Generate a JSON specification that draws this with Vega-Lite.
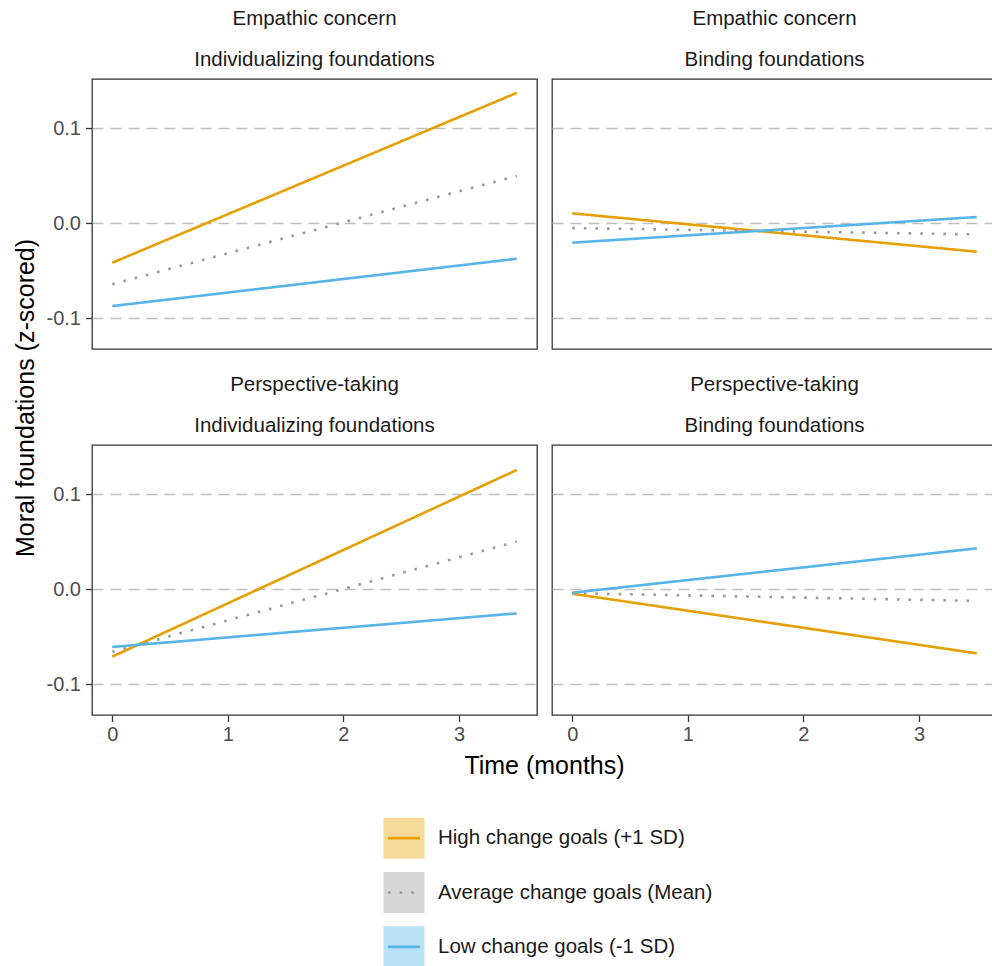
{
  "$schema": "https://vega.github.io/schema/vega-lite/v6.json",
  "background": "white",
  "padding": {"left": 12, "top": 8, "right": 0, "bottom": 0},
  "bounds": "flush",
  "columns": 2,
  "spacing": {"row": 96, "column": 15},
  "config": {
    "font": "Liberation Sans",
    "view": {"stroke": "#333333", "strokeWidth": 1.3},
    "axis": {
      "domain": false,
      "tickColor": "#333333",
      "tickWidth": 1.3,
      "tickSize": 6.5,
      "labelFont": "Liberation Sans",
      "labelFontSize": 20,
      "labelColor": "#4D4D4D",
      "labelPadding": 5,
      "titleFont": "Liberation Sans",
      "titleFontSize": 25,
      "titleFontWeight": "normal",
      "titleColor": "#000000",
      "gridColor": "#BEBEBE",
      "gridWidth": 1.5,
      "gridDash": [11, 7]
    },
    "title": {
      "font": "Liberation Sans",
      "fontSize": 20.5,
      "fontWeight": "normal",
      "color": "#1A1A1A",
      "lineHeight": 41,
      "offset": 8.5,
      "anchor": "middle",
      "frame": "group"
    },
    "line": {"strokeWidth": 2.6, "strokeCap": "butt"}
  },
  "datasets": {
    "lines": [
      {"trait": "Empathic concern", "foundation": "Individualizing foundations", "series": "High change goals (+1 SD)", "time": 0, "value": -0.0418},
      {"trait": "Empathic concern", "foundation": "Individualizing foundations", "series": "High change goals (+1 SD)", "time": 3.5, "value": 0.137},
      {"trait": "Empathic concern", "foundation": "Individualizing foundations", "series": "Average change goals (Mean)", "time": 0, "value": -0.0645},
      {"trait": "Empathic concern", "foundation": "Individualizing foundations", "series": "Average change goals (Mean)", "time": 3.5, "value": 0.0497},
      {"trait": "Empathic concern", "foundation": "Individualizing foundations", "series": "Low change goals (-1 SD)", "time": 0, "value": -0.0874},
      {"trait": "Empathic concern", "foundation": "Individualizing foundations", "series": "Low change goals (-1 SD)", "time": 3.5, "value": -0.0376},
      {"trait": "Empathic concern", "foundation": "Binding foundations", "series": "High change goals (+1 SD)", "time": 0, "value": 0.0102},
      {"trait": "Empathic concern", "foundation": "Binding foundations", "series": "High change goals (+1 SD)", "time": 3.5, "value": -0.0302},
      {"trait": "Empathic concern", "foundation": "Binding foundations", "series": "Average change goals (Mean)", "time": 0, "value": -0.0053},
      {"trait": "Empathic concern", "foundation": "Binding foundations", "series": "Average change goals (Mean)", "time": 3.5, "value": -0.012},
      {"trait": "Empathic concern", "foundation": "Binding foundations", "series": "Low change goals (-1 SD)", "time": 0, "value": -0.0207},
      {"trait": "Empathic concern", "foundation": "Binding foundations", "series": "Low change goals (-1 SD)", "time": 3.5, "value": 0.0063},
      {"trait": "Perspective-taking", "foundation": "Individualizing foundations", "series": "High change goals (+1 SD)", "time": 0, "value": -0.0712},
      {"trait": "Perspective-taking", "foundation": "Individualizing foundations", "series": "High change goals (+1 SD)", "time": 3.5, "value": 0.1253},
      {"trait": "Perspective-taking", "foundation": "Individualizing foundations", "series": "Average change goals (Mean)", "time": 0, "value": -0.0661},
      {"trait": "Perspective-taking", "foundation": "Individualizing foundations", "series": "Average change goals (Mean)", "time": 3.5, "value": 0.0499},
      {"trait": "Perspective-taking", "foundation": "Individualizing foundations", "series": "Low change goals (-1 SD)", "time": 0, "value": -0.061},
      {"trait": "Perspective-taking", "foundation": "Individualizing foundations", "series": "Low change goals (-1 SD)", "time": 3.5, "value": -0.0256},
      {"trait": "Perspective-taking", "foundation": "Binding foundations", "series": "High change goals (+1 SD)", "time": 0, "value": -0.0049},
      {"trait": "Perspective-taking", "foundation": "Binding foundations", "series": "High change goals (+1 SD)", "time": 3.5, "value": -0.0677},
      {"trait": "Perspective-taking", "foundation": "Binding foundations", "series": "Average change goals (Mean)", "time": 0, "value": -0.0044},
      {"trait": "Perspective-taking", "foundation": "Binding foundations", "series": "Average change goals (Mean)", "time": 3.5, "value": -0.0125},
      {"trait": "Perspective-taking", "foundation": "Binding foundations", "series": "Low change goals (-1 SD)", "time": 0, "value": -0.0039},
      {"trait": "Perspective-taking", "foundation": "Binding foundations", "series": "Low change goals (-1 SD)", "time": 3.5, "value": 0.0428}
    ],
    "legend": [
      {"series": "High change goals (+1 SD)"},
      {"series": "Average change goals (Mean)"},
      {"series": "Low change goals (-1 SD)"}
    ]
  },
  "concat": [
    {
      "width": 445, "height": 270,
      "title": {"text": ["Empathic concern", "Individualizing foundations"]},
      "data": {"name": "lines"},
      "transform": [{"filter": "datum.trait === 'Empathic concern' && datum.foundation === 'Individualizing foundations'"}],
      "mark": "line",
      "encoding": {
        "x": {"field": "time", "type": "quantitative", "scale": {"domain": [-0.175, 3.675], "nice": false, "zero": false}, "axis": null},
        "y": {"field": "value", "type": "quantitative", "scale": {"domain": [-0.1326, 0.1516], "nice": false, "zero": false},
              "axis": {"values": [-0.1, 0, 0.1], "grid": true, "title": "Moral foundations (z-scored)", "titleX": -54, "titleY": 318.5, "labelExpr": "datum.value < 0 ? '-' + format(-datum.value, '.1f') : format(datum.value, '.1f')"}},
        "color": {"field": "series", "type": "nominal", "scale": {"domain": ["High change goals (+1 SD)", "Average change goals (Mean)", "Low change goals (-1 SD)"], "range": ["#E69F00", "#999999", "#56B4E9"]}, "legend": null},
        "strokeDash": {"field": "series", "type": "nominal", "scale": {"domain": ["High change goals (+1 SD)", "Average change goals (Mean)", "Low change goals (-1 SD)"], "range": [[1, 0], [2.6, 9], [1, 0]]}, "legend": null}
      }
    },
    {
      "width": 445, "height": 270,
      "title": {"text": ["Empathic concern", "Binding foundations"]},
      "data": {"name": "lines"},
      "transform": [{"filter": "datum.trait === 'Empathic concern' && datum.foundation === 'Binding foundations'"}],
      "mark": "line",
      "encoding": {
        "x": {"field": "time", "type": "quantitative", "scale": {"domain": [-0.175, 3.675], "nice": false, "zero": false}, "axis": null},
        "y": {"field": "value", "type": "quantitative", "scale": {"domain": [-0.1326, 0.1516], "nice": false, "zero": false},
              "axis": {"values": [-0.1, 0, 0.1], "title": null, "grid": true, "labels": false, "ticks": false}},
        "color": {"field": "series", "type": "nominal", "scale": {"domain": ["High change goals (+1 SD)", "Average change goals (Mean)", "Low change goals (-1 SD)"], "range": ["#E69F00", "#999999", "#56B4E9"]}, "legend": null},
        "strokeDash": {"field": "series", "type": "nominal", "scale": {"domain": ["High change goals (+1 SD)", "Average change goals (Mean)", "Low change goals (-1 SD)"], "range": [[1, 0], [2.6, 9], [1, 0]]}, "legend": null}
      }
    },
    {
      "width": 445, "height": 270,
      "title": {"text": ["Perspective-taking", "Individualizing foundations"]},
      "data": {"name": "lines"},
      "transform": [{"filter": "datum.trait === 'Perspective-taking' && datum.foundation === 'Individualizing foundations'"}],
      "mark": "line",
      "encoding": {
        "x": {"field": "time", "type": "quantitative", "scale": {"domain": [-0.175, 3.675], "nice": false, "zero": false},
              "axis": {"values": [0, 1, 2, 3], "format": "d", "grid": false, "labelPadding": 3, "title": "Time (months)", "titleX": 452, "titleY": 38}},
        "y": {"field": "value", "type": "quantitative", "scale": {"domain": [-0.1326, 0.1516], "nice": false, "zero": false},
              "axis": {"values": [-0.1, 0, 0.1], "grid": true, "title": null, "labelExpr": "datum.value < 0 ? '-' + format(-datum.value, '.1f') : format(datum.value, '.1f')"}},
        "color": {"field": "series", "type": "nominal", "scale": {"domain": ["High change goals (+1 SD)", "Average change goals (Mean)", "Low change goals (-1 SD)"], "range": ["#E69F00", "#999999", "#56B4E9"]}, "legend": null},
        "strokeDash": {"field": "series", "type": "nominal", "scale": {"domain": ["High change goals (+1 SD)", "Average change goals (Mean)", "Low change goals (-1 SD)"], "range": [[1, 0], [2.6, 9], [1, 0]]}, "legend": null}
      }
    },
    {
      "width": 445, "height": 270,
      "title": {"text": ["Perspective-taking", "Binding foundations"]},
      "data": {"name": "lines"},
      "transform": [{"filter": "datum.trait === 'Perspective-taking' && datum.foundation === 'Binding foundations'"}],
      "mark": "line",
      "encoding": {
        "x": {"field": "time", "type": "quantitative", "scale": {"domain": [-0.175, 3.675], "nice": false, "zero": false},
              "axis": {"values": [0, 1, 2, 3], "format": "d", "grid": false, "labelPadding": 3, "title": null}},
        "y": {"field": "value", "type": "quantitative", "scale": {"domain": [-0.1326, 0.1516], "nice": false, "zero": false},
              "axis": {"values": [-0.1, 0, 0.1], "title": null, "grid": true, "labels": false, "ticks": false}},
        "color": {"field": "series", "type": "nominal", "scale": {"domain": ["High change goals (+1 SD)", "Average change goals (Mean)", "Low change goals (-1 SD)"], "range": ["#E69F00", "#999999", "#56B4E9"]}, "legend": null},
        "strokeDash": {"field": "series", "type": "nominal", "scale": {"domain": ["High change goals (+1 SD)", "Average change goals (Mean)", "Low change goals (-1 SD)"], "range": [[1, 0], [2.6, 9], [1, 0]]}, "legend": null}
      }
    },
    {
      "width": 445, "height": 163,
      "view": {"stroke": null},
      "data": {"name": "legend"},
      "encoding": {
        "y": {"field": "series", "type": "nominal", "sort": ["High change goals (+1 SD)", "Average change goals (Mean)", "Low change goals (-1 SD)"], "axis": null}
      },
      "layer": [
        {
          "mark": {"type": "point", "shape": "square", "filled": true, "size": 1681, "opacity": 1, "strokeWidth": 0},
          "encoding": {
            "x": {"datum": 312, "type": "quantitative", "scale": {"domain": [0, 445], "nice": false, "zero": false}, "axis": null},
            "fill": {"field": "series", "type": "nominal", "scale": {"domain": ["High change goals (+1 SD)", "Average change goals (Mean)", "Low change goals (-1 SD)"], "range": ["#F5D999", "#D6D6D6", "#BBE1F6"]}, "legend": null}
          }
        },
        {
          "mark": {"type": "point", "shape": "stroke", "filled": false, "size": 1024, "opacity": 1, "strokeWidth": 2.6, "strokeCap": "butt"},
          "encoding": {
            "x": {"datum": 312, "type": "quantitative", "scale": {"domain": [0, 445], "nice": false, "zero": false}, "axis": null},
            "stroke": {"field": "series", "type": "nominal", "scale": {"domain": ["High change goals (+1 SD)", "Average change goals (Mean)", "Low change goals (-1 SD)"], "range": ["#E69F00", "#999999", "#56B4E9"]}, "legend": null},
            "strokeDash": {"field": "series", "type": "nominal", "scale": {"domain": ["High change goals (+1 SD)", "Average change goals (Mean)", "Low change goals (-1 SD)"], "range": [[1, 0], [2.6, 9], [1, 0]]}, "legend": null}
          }
        },
        {
          "mark": {"type": "text", "align": "left", "baseline": "middle", "fontSize": 20.5, "color": "#1A1A1A", "font": "Liberation Sans"},
          "encoding": {
            "x": {"datum": 346, "type": "quantitative", "scale": {"domain": [0, 445], "nice": false, "zero": false}, "axis": null},
            "text": {"field": "series", "type": "nominal"}
          }
        }
      ]
    }
  ]
}
